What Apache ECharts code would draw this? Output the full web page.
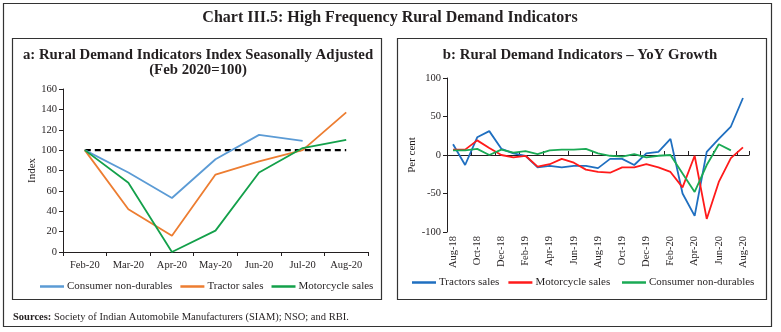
<!DOCTYPE html>
<html>
<head>
<meta charset="utf-8">
<script src="https://cdn.jsdelivr.net/npm/echarts@6/dist/echarts.min.js"></script>
<style>
  html, body { margin: 0; padding: 0; background: #fff; }
  #chart { width: 781px; height: 332px; }
</style>
</head>
<body>
<div id="chart"></div>
<script>
// Panel a: index, seasonally adjusted (Feb 2020 = 100)
const monthsA = ['Feb-20', 'Mar-20', 'Apr-20', 'May-20', 'Jun-20', 'Jul-20', 'Aug-20'];
const consumerIndex = [100, 78, 53, 91, 115, 109, null];
const tractorIndex = [100, 42, 16, 76, 89, 100, 137];
const motorcycleIndex = [100, 68, 0, 21, 78, 102, 110];
const baseIndex = [100, 100, 100, 100, 100, 100, 100];
const indexTicks = { min: 0, max: 160, interval: 20 };

// Panel b: year-on-year growth, per cent
const monthsB = ['Aug-18', 'Sep-18', 'Oct-18', 'Nov-18', 'Dec-18', 'Jan-19', 'Feb-19', 'Mar-19',
  'Apr-19', 'May-19', 'Jun-19', 'Jul-19', 'Aug-19', 'Sep-19', 'Oct-19', 'Nov-19', 'Dec-19',
  'Jan-20', 'Feb-20', 'Mar-20', 'Apr-20', 'May-20', 'Jun-20', 'Jul-20', 'Aug-20'];
const tractorsYoY = [14, -13, 23, 31, 8, 2, -1, -16, -14, -16, -14, -14, -17, -5, -5, -13,
  2, 4, 21, -50, -79, 4, 21, 37, 74];
const motorcycleYoY = [7, 7, 19, 9, 0, -3, -1, -15, -12, -5, -10, -19, -22, -23, -16, -16,
  -12, -16, -22, -42, -1, -83, -35, -4, 10];
const consumerYoY = [6, 6, 8, 0, 7, 3, 5, 1, 6, 7, 7, 8, 2, -1, -2, 1, -3, -1, 0, -24, -48,
  -13, 14, 6, null];
const growthTicks = { min: -100, max: 100, interval: 50 };

const SERIF = '"Liberation Serif", "DejaVu Serif", serif';
const INK = '#231f20';

const chart = echarts.init(document.getElementById('chart'), null, { renderer: 'canvas' });

const axisText = { color: INK, fontFamily: SERIF, fontSize: 10.5 };
const legendText = { color: INK, fontFamily: SERIF, fontSize: 11, padding: [0, 0, 0, -2] };

chart.setOption({
  animation: false,
  backgroundColor: '#fff',
  graphic: [
    { type: 'rect', shape: { x: 3.5, y: 3.5, width: 768, height: 323 }, style: { fill: 'none', stroke: '#333', lineWidth: 1.2 } },
    { type: 'rect', shape: { x: 12.5, y: 38.5, width: 369, height: 261 }, style: { fill: 'none', stroke: '#333', lineWidth: 1.2 } },
    { type: 'rect', shape: { x: 397.5, y: 38.5, width: 369, height: 261 }, style: { fill: 'none', stroke: '#333', lineWidth: 1.2 } },
    { type: 'text', x: 390, y: 18, style: { text: 'Chart III.5: High Frequency Rural Demand Indicators', fill: INK, font: 'bold 16px ' + SERIF, align: 'center', verticalAlign: 'middle' } },
    { type: 'text', x: 198, y: 55, style: { text: 'a: Rural Demand Indicators Index Seasonally Adjusted', fill: INK, font: 'bold 14.8px ' + SERIF, align: 'center', verticalAlign: 'middle' } },
    { type: 'text', x: 198, y: 70, style: { text: '(Feb 2020=100)', fill: INK, font: 'bold 14.8px ' + SERIF, align: 'center', verticalAlign: 'middle' } },
    { type: 'text', x: 580, y: 55, style: { text: 'b: Rural Demand Indicators \u2013 YoY Growth', fill: INK, font: 'bold 14.8px ' + SERIF, align: 'center', verticalAlign: 'middle' } },
    { type: 'text', x: 13, y: 317, style: {
        text: '{b|Sources:} Society of Indian Automobile Manufacturers (SIAM); NSO; and RBI.',
        fill: INK, font: '10.5px ' + SERIF, verticalAlign: 'middle',
        rich: { b: { fontWeight: 'bold', fontFamily: SERIF, fontSize: 10.5, fill: INK } }
      } }
  ],
  grid: [
    { left: 63, right: 413, top: 89, bottom: 80, containLabel: false },
    { left: 447, right: 32, top: 78, bottom: 100, containLabel: false }
  ],
  legend: [
    {
      data: ['Consumer non-durables', 'Tractor sales', 'Motorcycle sales'],
      left: 35, top: 276, icon: 'rect', itemWidth: 24, itemHeight: 2.5, itemGap: 8,
      textStyle: legendText
    },
    {
      data: ['Tractors sales', 'Motorcycle sales ', 'Consumer non-durables '],
      left: 407, top: 272, icon: 'rect', itemWidth: 24, itemHeight: 2.5, itemGap: 9,
      textStyle: legendText
    }
  ],
  xAxis: [
    {
      type: 'category', gridIndex: 0, data: monthsA, boundaryGap: true,
      axisLine: { lineStyle: { color: INK, width: 1 } },
      axisTick: { show: true, length: 4, lineStyle: { color: INK } },
      axisLabel: Object.assign({ margin: 8 }, axisText)
    },
    {
      // month labels along the bottom of panel b
      type: 'category', gridIndex: 1, data: monthsB, boundaryGap: true, position: 'bottom',
      axisLine: { show: false, onZero: false }, axisTick: { show: false },
      axisLabel: Object.assign({ interval: 1, rotate: 90, margin: 4 }, axisText)
    },
    {
      // zero line of panel b with its tick marks
      type: 'category', gridIndex: 1, data: monthsB, boundaryGap: true, position: 'bottom',
      axisLine: { show: true, onZero: true, lineStyle: { color: INK, width: 1.2 } },
      axisTick: { show: true, inside: true, interval: 1, length: 4, lineStyle: { color: INK } },
      axisLabel: { show: false }
    }
  ],
  yAxis: [
    {
      type: 'value', gridIndex: 0, min: indexTicks.min, max: indexTicks.max, interval: indexTicks.interval,
      name: 'Index', nameLocation: 'middle', nameGap: 25, nameRotate: 90,
      nameTextStyle: { color: INK, fontFamily: SERIF, fontSize: 11 },
      axisLine: { show: true, lineStyle: { color: INK, width: 1 } },
      axisTick: { show: true, length: 4, lineStyle: { color: INK } },
      splitLine: { show: false },
      axisLabel: Object.assign({ margin: 6 }, axisText)
    },
    {
      type: 'value', gridIndex: 1, min: growthTicks.min, max: growthTicks.max, interval: growthTicks.interval,
      name: 'Per cent', nameLocation: 'middle', nameGap: 25, nameRotate: 90,
      nameTextStyle: { color: INK, fontFamily: SERIF, fontSize: 11 },
      axisLine: { show: true, lineStyle: { color: INK, width: 1 } },
      axisTick: { show: true, length: 4, lineStyle: { color: INK } },
      splitLine: { show: false },
      axisLabel: Object.assign({ margin: 6 }, axisText)
    }
  ],
  series: [
    { name: 'Baseline', type: 'line', xAxisIndex: 0, yAxisIndex: 0, data: baseIndex, symbol: 'none',
      lineStyle: { color: '#000', width: 2.4, type: [6, 4] }, z: 1 },
    { name: 'Consumer non-durables', type: 'line', xAxisIndex: 0, yAxisIndex: 0, data: consumerIndex, symbol: 'none',
      color: '#5b9bd5', lineStyle: { width: 1.8 }, z: 3 },
    { name: 'Tractor sales', type: 'line', xAxisIndex: 0, yAxisIndex: 0, data: tractorIndex, symbol: 'none',
      color: '#ed7d31', lineStyle: { width: 1.8 }, z: 3 },
    { name: 'Motorcycle sales', type: 'line', xAxisIndex: 0, yAxisIndex: 0, data: motorcycleIndex, symbol: 'none',
      color: '#13a04a', lineStyle: { width: 1.8 }, z: 3 },

    { name: 'Tractors sales', type: 'line', xAxisIndex: 1, yAxisIndex: 1, data: tractorsYoY, symbol: 'none',
      color: '#1f6fc0', lineStyle: { width: 1.8 }, z: 3 },
    { name: 'Motorcycle sales ', type: 'line', xAxisIndex: 1, yAxisIndex: 1, data: motorcycleYoY, symbol: 'none',
      color: '#ff1a1a', lineStyle: { width: 1.8 }, z: 3 },
    { name: 'Consumer non-durables ', type: 'line', xAxisIndex: 1, yAxisIndex: 1, data: consumerYoY, symbol: 'none',
      color: '#1aaa55', lineStyle: { width: 1.8 }, z: 3 }
  ]
});
</script>
</body>
</html>
